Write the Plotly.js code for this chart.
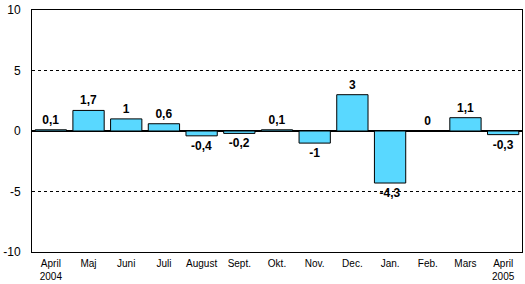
<!DOCTYPE html>
<html>
<head>
<meta charset="utf-8">
<script src="https://cdn.plot.ly/plotly-3.0.1.min.js"></script>
<style>html,body{margin:0;padding:0;background:#fff;}#chart{width:525px;height:284px;}</style>
</head>
<body>
<div id="chart"></div>
<script>
var categories = ["April<br>2004","Maj","Juni","Juli","August","Sept.","Okt.","Nov.","Dec.","Jan.","Feb.","Mars","April<br>2005"];
var values = [0.1, 1.7, 1, 0.6, -0.4, -0.2, 0.1, -1, 3, -4.3, 0, 1.1, -0.3];
var valueLabels = ["0,1","1,7","1","0,6","-0,4","-0,2","0,1","-1","3","-4,3","0","1,1","-0,3"];
var yTicks = [-10, -5, 0, 5, 10];

var trace = {
  type: "bar",
  x: categories,
  y: values,
  text: valueLabels.map(function(s){return "<b>"+s+"</b>";}),
  textposition: "outside",
  cliponaxis: false,
  textfont: {family: "Arial, Liberation Sans, sans-serif", size: 12, color: "#000"},
  marker: {color: "#59D8FF", line: {color: "#000", width: 1}},
  hoverinfo: "none"
};

var layout = {
  width: 525, height: 284,
  margin: {l: 32, r: 3, t: 10, b: 32},
  paper_bgcolor: "#fff", plot_bgcolor: "#fff",
  showlegend: false,
  bargap: 0.17,
  font: {family: "Arial, Liberation Sans, sans-serif", color: "#000"},
  xaxis: {
    showline: true, linecolor: "#000", linewidth: 1, mirror: true,
    ticks: "", showgrid: false, zeroline: false,
    tickfont: {size: 10, color: "#000"},
    ticklabelstandoff: 2,
    fixedrange: true
  },
  yaxis: {
    range: [-10, 10], tickvals: yTicks, ticktext: yTicks.map(String),
    showline: true, linecolor: "#000", linewidth: 1, mirror: true,
    showgrid: true, gridcolor: "#000", griddash: "3px,3px", gridwidth: 1,
    zeroline: true, zerolinecolor: "#000", zerolinewidth: 2,
    ticks: "", tickfont: {size: 12, color: "#000"},
    ticklabelstandoff: 8,
    fixedrange: true
  }
};

Plotly.newPlot("chart", [trace], layout, {displayModeBar: false, staticPlot: true});
</script>
</body>
</html>
